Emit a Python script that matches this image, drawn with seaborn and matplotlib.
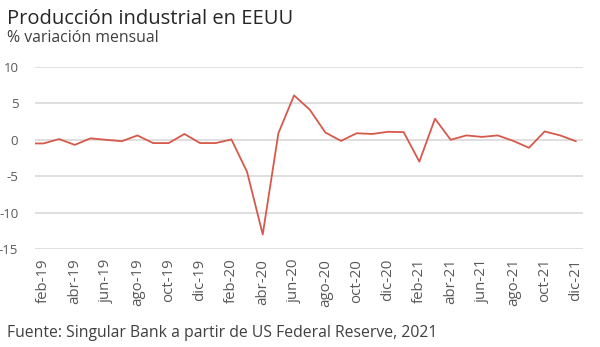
import matplotlib
matplotlib.use("Agg")
import matplotlib.pyplot as plt
import seaborn as sns
import pandas as pd

months = ["ene-19", "feb-19", "mar-19", "abr-19", "may-19", "jun-19", "jul-19", "ago-19", "sep-19", "oct-19", "nov-19", "dic-19",
          "ene-20", "feb-20", "mar-20", "abr-20", "may-20", "jun-20", "jul-20", "ago-20", "sep-20", "oct-20", "nov-20", "dic-20",
          "ene-21", "feb-21", "mar-21", "abr-21", "may-21", "jun-21", "jul-21", "ago-21", "sep-21", "oct-21", "nov-21", "dic-21"]
values = [-0.5, -0.5, 0.1, -0.7, 0.2, 0.0, -0.2, 0.6, -0.45, -0.45, 0.8, -0.45,
          -0.45, 0.05, -4.4, -13.0, 0.9, 6.1, 4.15, 1.0, -0.15, 0.9, 0.8, 1.1,
          1.05, -3.0, 2.9, 0.0, 0.6, 0.4, 0.6, -0.15, -1.1, 1.15, 0.6, -0.2]
yticks = [10, 5, 0, -5, -10, -15]

title = "Producción industrial en EEUU"
subtitle = "% variación mensual"
source = "Fuente: Singular Bank a partir de US Federal Reserve, 2021"

sns.set_theme(style="white")
plt.rcParams['font.family'] = ['Open Sans', 'DejaVu Sans']

df = pd.DataFrame({"idx": range(len(months)), "mes": months, "valor": values})

fig = plt.figure(figsize=(6.0, 3.47), dpi=100)
ax = fig.add_axes([35/600, 1 - 249/347, (583 - 35)/600, (249 - 67)/347])

for y in yticks:
    ax.axhline(y, color="#d9d9d9", lw=1.2, zorder=0)

sns.lineplot(data=df, x="idx", y="valor", ax=ax, color="#d6594b", lw=1.3, zorder=3)

ax.set_xlim(0.46, 35.45)
ax.set_ylim(-15, 10)
ax.set_yticks(yticks)
ax.set_yticklabels([str(t) for t in yticks], color="#595959", fontsize=9.5)
ax.set_xticks(list(range(1, len(months), 2)))
ax.set_xticklabels(months[1::2], rotation=90, color="#595959", fontsize=10.8)
ax.tick_params(axis="y", length=0, pad=12)
ax.tick_params(axis="x", length=0, pad=7)
ax.set_xlabel("")
ax.set_ylabel("")
for s in ax.spines.values():
    s.set_visible(False)
ax.grid(False)

fig.text(7/600, 1 - 19/347, title, fontsize=14.5, color="#262626", va="center", ha="left")
fig.text(7/600, 1 - 38/347, subtitle, fontsize=11.4, color="#404040", va="center", ha="left")
fig.text(7/600, 1 - 333/347, source, fontsize=11.3, color="#404040", va="center", ha="left")

fig.savefig("out.png", dpi=100, facecolor="white")
